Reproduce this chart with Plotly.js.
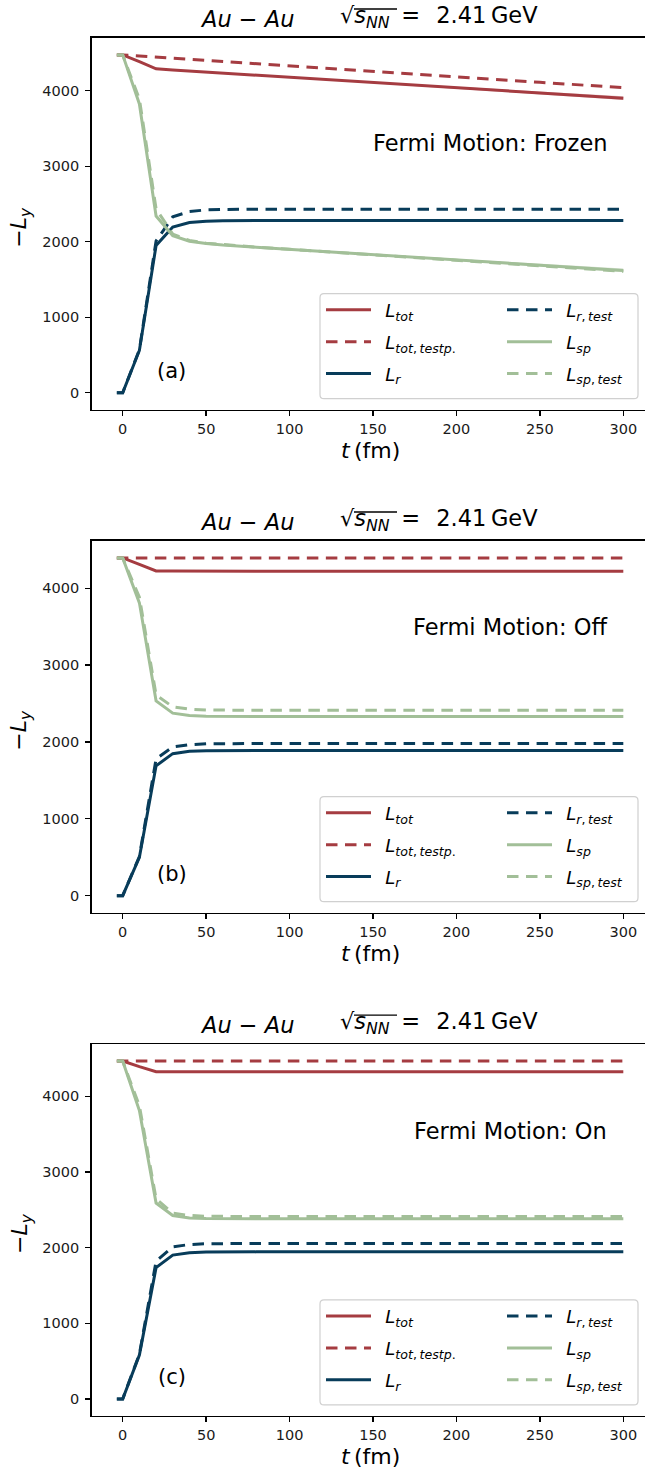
<!DOCTYPE html>
<html><head><meta charset="utf-8">
<script src="https://cdn.plot.ly/plotly-3.0.1.min.js"></script>
<style>html,body{margin:0;padding:0;background:#fff}#chart{width:645px;height:1469px}</style>
</head><body><div id="chart"></div>
<script>
const W = 645, H = 1469;
const t = [-3.5, 0, 10, 20, 30, 40, 50, 60, 80, 100, 150, 200, 250, 300];

// (a) Fermi motion frozen
const totA     = [4475, 4475, 4385, 4290, 4276, 4262, 4248, 4234, 4207, 4179, 4109, 4040, 3970, 3901];
const totTestA = [4475, 4475, 4460, 4446, 4431, 4417, 4402, 4388, 4359, 4330, 4257, 4185, 4112, 4040];
const rA       = [0, 0, 560, 1950, 2195, 2255, 2272, 2278, 2280, 2281, 2281, 2281, 2281, 2281];
const rTestA   = [0, 0, 570, 2010, 2330, 2400, 2422, 2428, 2430, 2431, 2431, 2431, 2431, 2431];
const spA      = [4475, 4475, 3825, 2340, 2081, 2007, 1976, 1956, 1927, 1898, 1828, 1759, 1689, 1620];
const spTestA  = [4475, 4475, 3890, 2436, 2101, 2017, 1980, 1960, 1929, 1899, 1826, 1754, 1681, 1609];
const errA     = [0, 0, 0, 0, 0, 0, 0, 1, 2, 4, 8, 12, 18, 25];

// (b) Fermi motion off
const totB     = [4395, 4395, 4310, 4225, 4223, 4222, 4222, 4222, 4222, 4222, 4222, 4222, 4222, 4222];
const totTestB = [4395, 4395, 4393, 4392, 4392, 4392, 4392, 4392, 4392, 4392, 4392, 4392, 4392, 4392];
const rB       = [0, 0, 500, 1690, 1848, 1878, 1886, 1889, 1890, 1890, 1890, 1890, 1890, 1890];
const rTestB   = [0, 0, 510, 1780, 1935, 1965, 1976, 1979, 1980, 1980, 1980, 1980, 1980, 1980];
const spB      = [4395, 4395, 3810, 2535, 2375, 2344, 2336, 2333, 2332, 2332, 2332, 2332, 2332, 2332];
const spTestB  = [4395, 4395, 3883, 2612, 2457, 2427, 2416, 2413, 2412, 2412, 2412, 2412, 2412, 2412];

// (c) Fermi motion on
const totC     = [4464, 4464, 4390, 4323, 4323, 4323, 4323, 4323, 4323, 4323, 4323, 4323, 4323, 4323];
const totTestC = [4464, 4464, 4464, 4464, 4464, 4464, 4464, 4464, 4464, 4464, 4464, 4464, 4464, 4464];
const rC       = [0, 0, 580, 1735, 1900, 1932, 1940, 1943, 1943, 1943, 1943, 1943, 1943, 1943];
const rTestC   = [0, 0, 590, 1820, 2010, 2040, 2050, 2054, 2054, 2054, 2054, 2054, 2054, 2054];
const spC      = [4464, 4464, 3810, 2588, 2423, 2391, 2383, 2380, 2380, 2380, 2380, 2380, 2380, 2380];
const spTestC  = [4464, 4464, 3874, 2644, 2454, 2424, 2414, 2410, 2410, 2410, 2410, 2410, 2410, 2410];

const panelLabels = ['(a)', '(b)', '(c)'];
const motionLabels = ['Fermi Motion: Frozen', 'Fermi Motion: Off', 'Fermi Motion: On'];
const PRE = '\u00a0\u2009';
const seriesNames = [
  PRE + '<i>L</i><sub><i>tot</i></sub>',
  PRE + '<i>L</i><sub><i>tot</i>,\u2009<i>testp</i>.</sub>',
  PRE + '<i>L</i><sub><i>r</i></sub>',
  PRE + '<i>L</i><sub><i>r</i>,\u2009<i>test</i></sub>',
  PRE + '<i>L</i><sub><i>sp</i></sub>',
  PRE + '<i>L</i><sub><i>sp</i>,\u2009<i>test</i></sub>'
];
const xTicks = [0, 50, 100, 150, 200, 250, 300];
const yTicks = [0, 1000, 2000, 3000, 4000];
const titleLeft = '<i>Au</i> − <i>Au</i>';
const titleRight = '√<i>s</i><sub><i>NN</i></sub>\u2009 =\u2009\u2009 2.41\u2009GeV';

const RED = '#a53c41', NAVY = '#083c5a', GREEN = '#a2bf98';
const colors = [RED, RED, NAVY, NAVY, GREEN, GREEN];
const dashes = ['solid', '11.5px,7.5px', 'solid', '11.5px,7.5px', 'solid', '11.5px,7.5px'];

const panels = [
  {series: [totA, totTestA, rA, rTestA, spA, spTestA], err: errA, yr: [-223.75, 4698.75]},
  {series: [totB, totTestB, rB, rTestB, spB, spTestB], err: null, yr: [-219.75, 4614.75]},
  {series: [totC, totTestC, rC, rTestC, spC, spTestC], err: null, yr: [-223.2, 4687.2]}
];

// geometry (pixels)
const tops = [38.0, 541.0, 1044.2];
const PH = 371.6;
const XL = 91.7, XR = 645;
const px = x => x / W;
const py = y => 1 - y / H;

function roundRect(x0, y0, x1, y1, r) {
  const X = v => px(v).toFixed(5), Y = v => py(v).toFixed(5);
  return 'M' + X(x0 + r) + ',' + Y(y0) + ' L' + X(x1 - r) + ',' + Y(y0) +
    ' Q' + X(x1) + ',' + Y(y0) + ' ' + X(x1) + ',' + Y(y0 + r) +
    ' L' + X(x1) + ',' + Y(y1 - r) +
    ' Q' + X(x1) + ',' + Y(y1) + ' ' + X(x1 - r) + ',' + Y(y1) +
    ' L' + X(x0 + r) + ',' + Y(y1) +
    ' Q' + X(x0) + ',' + Y(y1) + ' ' + X(x0) + ',' + Y(y1 - r) +
    ' L' + X(x0) + ',' + Y(y0 + r) +
    ' Q' + X(x0) + ',' + Y(y0) + ' ' + X(x0 + r) + ',' + Y(y0) + ' Z';
}

const FONT = 'DejaVu Sans';
const data = [];
const layout = {
  width: W, height: H,
  margin: {l: 0, r: 0, t: 0, b: 0},
  paper_bgcolor: '#fff', plot_bgcolor: '#fff',
  showlegend: true,
  annotations: [], shapes: []
};

panels.forEach((p, k) => {
  const sfx = k === 0 ? '' : String(k + 1);
  const xa = 'x' + sfx, ya = 'y' + sfx;
  const top = tops[k], bot = top + PH;
  const legA = 'legend' + (k === 0 ? '' : String(2 * k + 1));
  const legB = 'legend' + String(2 * k + 2);

  // faint uncertainty bands
  if (p.err) {
    [[p.series[0], 'rgba(165,60,65,0.3)'], [p.series[4], 'rgba(162,191,152,0.4)']].forEach(([s, c]) => {
      const up = s.map((v, i) => v + p.err[i]);
      const lo = s.map((v, i) => v - p.err[i]);
      data.push({x: t.concat(t.slice().reverse()), y: up.concat(lo.slice().reverse()),
        xaxis: xa, yaxis: ya, type: 'scatter', mode: 'lines', fill: 'toself',
        fillcolor: c, line: {width: 0}, showlegend: false, hoverinfo: 'skip'});
    });
  }

  p.series.forEach((s, i) => {
    data.push({
      x: t, y: s, xaxis: xa, yaxis: ya, type: 'scatter', mode: 'lines',
      name: seriesNames[i], legend: i < 3 ? legA : legB, legendgroup: 'g' + k + i,
      line: {color: colors[i], width: 3, dash: dashes[i]}
    });
  });

  layout['xaxis' + sfx] = {
    domain: [px(XL), px(XR)], range: [-18.58, 313.0], anchor: ya,
    tickvals: xTicks, ticktext: xTicks.map(String), ticks: 'outside', ticklen: 5, tickwidth: 1.3,
    tickcolor: '#000', showline: true, linecolor: '#000', linewidth: 1.6, mirror: true,
    showgrid: false, zeroline: false, tickfont: {family: FONT, size: 14.5, color: '#1a1a1a'}
  };
  layout['yaxis' + sfx] = {
    domain: [py(bot), py(top)], range: p.yr, anchor: xa,
    tickvals: yTicks, ticktext: yTicks.map(String), ticks: 'outside', ticklen: 5, tickwidth: 1.3,
    tickcolor: '#000', showline: true, linecolor: '#000', linewidth: 1.6, mirror: false,
    showgrid: false, zeroline: false, tickfont: {family: FONT, size: 14.5, color: '#1a1a1a'},
    ticklabelstandoff: 3
  };

  const legCommon = {
    font: {family: FONT, size: 18, color: '#000'}, bgcolor: 'rgba(0,0,0,0)', borderwidth: 0,
    xanchor: 'left', yanchor: 'top', traceorder: 'grouped', tracegroupgap: 5.5, itemwidth: 45
  };
  layout[legA] = Object.assign({}, legCommon, {x: px(321), y: py(bot - 118)});
  layout[legB] = Object.assign({}, legCommon, {x: px(502), y: py(bot - 118)});

  // legend frame
  layout.shapes.push({type: 'path', xref: 'paper', yref: 'paper', layer: 'above',
    path: roundRect(320, bot - 115.9, 638, bot - 10.9, 4),
    line: {color: '#d0d0d0', width: 1.2}, fillcolor: 'rgba(255,255,255,0.8)'});

  // title (two parts) + radical bar
  layout.annotations.push({xref: 'paper', yref: 'paper', x: px(247), y: py(top - 4),
    xanchor: 'center', yanchor: 'bottom', showarrow: false, text: titleLeft,
    font: {family: FONT, size: 22.5, color: '#000'}});
  layout.annotations.push({xref: 'paper', yref: 'paper', x: px(338), y: py(top - 4),
    xanchor: 'left', yanchor: 'bottom', showarrow: false, text: titleRight,
    font: {family: FONT, size: 22.5, color: '#000'}});
  layout.shapes.push({type: 'line', xref: 'paper', yref: 'paper', layer: 'above',
    x0: px(354), x1: px(397), y0: py(top - 29), y1: py(top - 29),
    line: {color: '#000', width: 1.3}});

  // motion label
  const my = [143, 627, 1131][k];
  layout.annotations.push({xref: 'paper', yref: 'paper', x: px(609), y: py(my),
    xanchor: 'right', yanchor: 'middle', showarrow: false, text: motionLabels[k],
    font: {family: FONT, size: 22.5, color: '#000'}});
  // panel label
  layout.annotations.push({xref: 'paper', yref: 'paper', x: px(171.7), y: py(bot - 39),
    xanchor: 'center', yanchor: 'middle', showarrow: false, text: panelLabels[k],
    font: {family: FONT, size: 21, color: '#000'}});
  // x title
  layout.annotations.push({xref: 'paper', yref: 'paper', x: px(370.2), y: py(bot + 41),
    xanchor: 'center', yanchor: 'middle', showarrow: false, text: '<i>t</i>\u2009(fm)',
    font: {family: FONT, size: 22, color: '#000'}});
  // y title
  layout.annotations.push({xref: 'paper', yref: 'paper', x: px(21), y: py(top + PH / 2 + 4),
    xanchor: 'center', yanchor: 'middle', showarrow: false, textangle: -90,
    text: '−<i>L</i><sub><i>y</i></sub>', font: {family: FONT, size: 22, color: '#000'}});
});

Plotly.newPlot('chart', data, layout, {displayModeBar: false, staticPlot: true});
</script>
</body></html>
